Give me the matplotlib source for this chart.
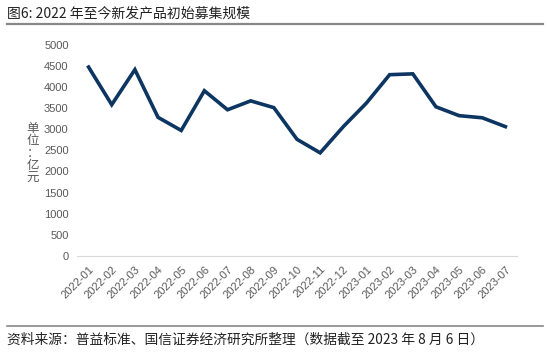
import matplotlib.pyplot as plt
from matplotlib.lines import Line2D

plt.rcParams['font.family'] = ['Noto Sans CJK SC', 'DejaVu Sans']

months = ["2022-01", "2022-02", "2022-03", "2022-04", "2022-05", "2022-06",
          "2022-07", "2022-08", "2022-09", "2022-10", "2022-11", "2022-12",
          "2023-01", "2023-02", "2023-03", "2023-04", "2023-05", "2023-06",
          "2023-07"]
values = [4470, 3580, 4410, 3280, 2970, 3910, 3460, 3670, 3510, 2760,
          2440, 3060, 3620, 4290, 4310, 3530, 3320, 3270, 3060]
yticks = [0, 500, 1000, 1500, 2000, 2500, 3000, 3500, 4000, 4500, 5000]

title = "图6: 2022 年至今新发产品初始募集规模"
source = "资料来源：普益标准、国信证券经济研究所整理（数据截至 2023 年 8 月 6 日）"


def main():
    fig = plt.figure(figsize=(5.5, 3.52), dpi=100)
    ax = fig.add_axes([0.14, 0.273, 0.80, 0.60])

    x = list(range(len(months)))
    ax.plot(x, values, color="#0d3561", linewidth=2.6, solid_joinstyle="miter")

    ax.set_xlim(-0.5, len(months) - 0.5)
    ax.set_ylim(0, 5000)
    ax.set_yticks(yticks)
    ax.set_yticklabels([str(v) for v in yticks], fontsize=8, color="#595959",
                       family=["Liberation Sans", "DejaVu Sans"])
    ax.set_xticks(x)
    ax.set_xticklabels(months, rotation=45, ha="right", rotation_mode="anchor",
                       fontsize=8, color="#595959",
                       family=["Liberation Sans", "DejaVu Sans"])
    ax.tick_params(length=0, pad=6)
    for side in ["top", "right", "left"]:
        ax.spines[side].set_visible(False)
    ax.spines["bottom"].set_color("#d9d9d9")

    fig.text(0.06, 0.565, "单\n位\n：\n亿\n元", fontsize=9, color="#595959",
             ha="center", va="center", linespacing=0.95)

    fig.text(0.013, 0.962, title, fontsize=10, color="#222222", va="center")
    fig.add_artist(Line2D([0.013, 0.988], [0.932, 0.932], color="#888888",
                          linewidth=1.6, transform=fig.transFigure))
    fig.add_artist(Line2D([0.013, 0.988], [0.074, 0.074], color="#888888",
                          linewidth=1.2, transform=fig.transFigure))
    fig.text(0.013, 0.035, source, fontsize=9.9, color="#222222", va="center")

    fig.savefig("out.png", dpi=100)


if __name__ == '__main__':
    main()
